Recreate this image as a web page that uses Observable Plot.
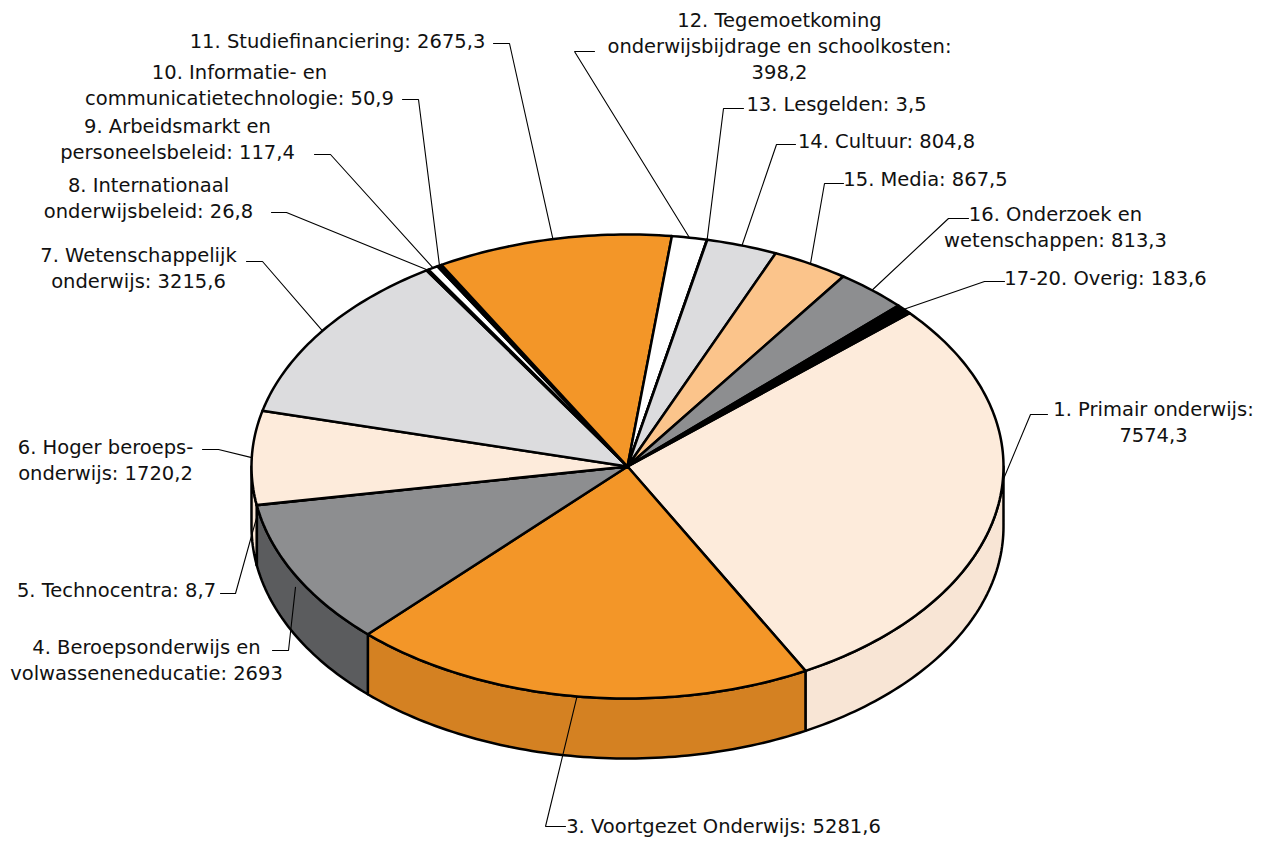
<!DOCTYPE html>
<html>
<head>
<meta charset="utf-8">
<script src="https://cdn.jsdelivr.net/npm/d3@7"></script>
<script src="https://cdn.jsdelivr.net/npm/@observablehq/plot@0.6"></script>
<style>
  html, body { margin: 0; padding: 0; background: #ffffff; }
  #chart svg { display: block; }
</style>
</head>
<body>
<div id="chart"></div>
<script>
// ---------- data ----------
const categories = [
  "1. Primair onderwijs",
  "3. Voortgezet Onderwijs",
  "4. Beroepsonderwijs en\nvolwasseneneducatie",
  "5. Technocentra",
  "6. Hoger beroeps-\nonderwijs",
  "7. Wetenschappelijk\nonderwijs",
  "8. Internationaal\nonderwijsbeleid",
  "9. Arbeidsmarkt en\npersoneelsbeleid",
  "10. Informatie- en\ncommunicatietechnologie",
  "11. Studiefinanciering",
  "12. Tegemoetkoming\nonderwijsbijdrage en schoolkosten",
  "13. Lesgelden",
  "14. Cultuur",
  "15. Media",
  "16. Onderzoek en\nwetenschappen",
  "17-20. Overig"
];
const values = [7574.3, 5281.6, 2693, 8.7, 1720.2, 3215.6, 26.8, 117.4, 50.9, 2675.3, 398.2, 3.5, 804.8, 867.5, 813.3, 183.6];
// value printed on its own line after the name
const valueOnNewLine = [true, false, false, false, false, false, false, false, false, false, true, false, false, false, false, false];

// ---------- styles ----------
const topColors  = ["#fdebdb", "#f39628", "#8d8e90", "#fdebdb", "#fdebdb", "#dcdcde", "#000000", "#ffffff",
                    "#000000", "#f39628", "#ffffff", "#000000", "#dcdcde", "#fbc48b", "#8d8e90", "#000000"];
const sideColors = ["#f8e5d5", "#d48122", "#5b5c5e", "#f8e5d5", "#f8e5d5", "#b9b9bb", "#000000", "#dddddd",
                    "#000000", "#d48122", "#dddddd", "#000000", "#b9b9bb", "#dca46c", "#5b5c5e", "#000000"];

// ---------- label layout (text centre x, first-line centre y, leader dash, anchor tweaks) ----------
const labelX   = [1153, 723, 146, 116, 105, 138, 148, 177, 239, 337, 779, 836, 886, 925, 1055, 1105];
const labelY   = [407, 824, 645, 588, 445, 253, 183, 124, 70, 39, 18, 102, 139, 177, 212, 276];
const dashFrom = [[1047,414],[565,826],[272,650],[220,593],[202,449],[246,261],[271,212],[314,154],[402,99],[493,43],[594,51],[743,108],[795,144],[843,183],[968,218],[1004,281]];
const dashTo   = [[1030,414],[545,826],[288,650],[235,593],[218,449],[262,261],[286,212],[330,154],[418,99],[509,43],[574,51],[723,108],[776,144],[824,183],[948,218],[984,281]];
const anchorAngle = [3.5, null, null, null, null, null, null, null, null, null, null, null, null, null, null, null];
const anchorDrop  = [0, 0, 12, 12, 0, 0, 0, 0, 0, 0, 0, 0, 0, 0, 0, 0];

// ---------- geometry ----------
const W = 1267, H = 842;
const cx = 627, cy = 466, rx = 376, ry = 232, depth = 60, startDeg = -41.4;
const FS = 19.5, LH = 26;

const total = d3.sum(values);
let acc = startDeg;
const slices = values.map((v, i) => {
  const a0 = acc;
  acc += v / total * 360;
  return {i, a0, a1: acc, mid: (a0 + acc) / 2};
});
const rad = (a) => a * Math.PI / 180;
const px = (a) => cx + rx * Math.cos(rad(a));
const py = (a) => cy + ry * Math.sin(rad(a));
function arc(a0, a1, dy = 0) {
  const n = Math.max(1, Math.ceil(Math.abs(a1 - a0) / 1));
  const pts = [];
  for (let k = 0; k <= n; k++) {
    const a = a0 + (a1 - a0) * k / n;
    pts.push([px(a), py(a) + dy]);
  }
  return pts;
}

// side walls (front half only: 0..180 degrees)
const sidePts = [];
slices.forEach(s => {
  const a = Math.max(s.a0, 0), b = Math.min(s.a1, 180);
  if (b > a) {
    const ring = arc(a, b, 0).concat(arc(b, a, depth));
    ring.forEach(([x, y]) => sidePts.push({id: "side" + s.i, x, y, fill: sideColors[s.i]}));
  }
});

// top faces
const topPts = [];
slices.forEach(s => {
  const ring = [[cx, cy]].concat(arc(s.a0, s.a1, 0));
  ring.forEach(([x, y]) => topPts.push({id: "top" + s.i, x, y, fill: topColors[s.i]}));
});

// leader lines
const leaderPts = [];
slices.forEach(s => {
  const ang = anchorAngle[s.i] != null ? anchorAngle[s.i] : s.mid;
  const end = [px(ang), py(ang) + anchorDrop[s.i]];
  [dashFrom[s.i], dashTo[s.i], end].forEach(([x, y]) => leaderPts.push({id: "lead" + s.i, x, y}));
});

// labels
const fmt = (v) => String(v).replace(".", ",");
const labels = slices.map(s => {
  const text = categories[s.i] + ":" + (valueOnNewLine[s.i] ? "\n" : " ") + fmt(values[s.i]);
  const lines = text.split("\n").length;
  return {x: labelX[s.i], y: labelY[s.i] + (lines - 1) * LH / 2, text};
});

const chart = Plot.plot({
  width: W,
  height: H,
  margin: 0,
  x: {domain: [0, W], range: [0, W], axis: null},
  y: {domain: [0, H], range: [0, H], axis: null},
  color: {type: "identity"},
  style: {background: "#ffffff", fontFamily: "'DejaVu Sans', sans-serif"},
  marks: [
    Plot.line(sidePts, {x: "x", y: "y", z: "id", fill: "fill", stroke: "#000", strokeWidth: 2.5, curve: "linear-closed", strokeLinejoin: "round"}),
    Plot.line(topPts, {x: "x", y: "y", z: "id", fill: "fill", stroke: "#000", strokeWidth: 2.5, curve: "linear-closed", strokeLinejoin: "round"}),
    Plot.line(leaderPts, {x: "x", y: "y", z: "id", stroke: "#000", strokeWidth: 1.1, strokeLinejoin: "miter"}),
    Plot.text(labels, {x: "x", y: "y", text: "text", textAnchor: "middle", lineAnchor: "middle", lineHeight: LH / FS, fontSize: FS, fill: "#111"})
  ]
});
document.getElementById("chart").appendChild(chart);
</script>
</body>
</html>
